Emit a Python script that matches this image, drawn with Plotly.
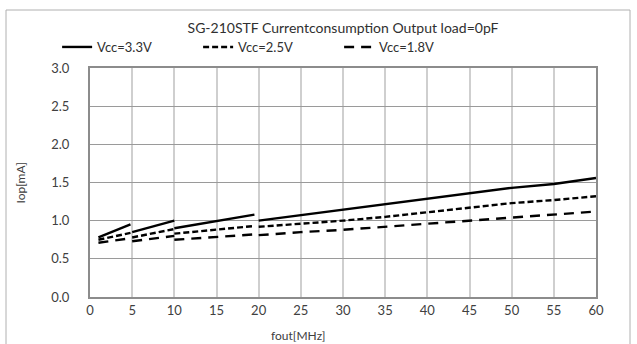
import plotly.graph_objects as go

# Frequency segments (MHz) and current (mA); None separates measurement ranges
fout = [1, 4.8, None, 5, 10, None, 10, 19.5, None,
        20, 25, 30, 35, 40, 45, 50, 55, 60]
iop_33 = [0.78, 0.95, None, 0.85, 1.00, None, 0.90, 1.08, None,
          1.00, 1.07, 1.15, 1.22, 1.29, 1.36, 1.43, 1.48, 1.56]
iop_25 = [0.75, 0.84, None, 0.78, 0.89, None, 0.83, 0.93, None,
          0.92, 0.96, 1.00, 1.05, 1.11, 1.17, 1.23, 1.27, 1.32]
iop_18 = [0.71, 0.77, None, 0.73, 0.80, None, 0.75, 0.82, None,
          0.81, 0.85, 0.88, 0.92, 0.96, 1.00, 1.04, 1.08, 1.12]

series_names = ["Vcc=3.3V", "Vcc=2.5V", "Vcc=1.8V"]
series_vals = [iop_33, iop_25, iop_18]
dashes = ["solid", "6px,3px", "10px,7px"]

x_ticks = [0, 5, 10, 15, 20, 25, 30, 35, 40, 45, 50, 55, 60]
y_ticks = [0.0, 0.5, 1.0, 1.5, 2.0, 2.5, 3.0]

FONT = "Lato, 'Open Sans', sans-serif"

fig = go.Figure()
for name, vals, d in zip(series_names, series_vals, dashes):
    fig.add_trace(go.Scatter(
        x=fout, y=vals, name=name, mode="lines",
        line=dict(color="black", width=2.4, dash=d),
        connectgaps=False,
    ))

fig.update_layout(
    width=637, height=344,
    margin=dict(l=90, r=41, t=68, b=47),
    paper_bgcolor="white", plot_bgcolor="white",
    font=dict(family=FONT, size=13, color="#404040"),
    title=dict(text="SG-210STF Currentconsumption Output load=0pF",
               x=0.5, xref="paper", xanchor="center",
               y=1 - 28 / 344, yanchor="middle",
               font=dict(family=FONT, size=14, color="#303030")),
    legend=dict(orientation="h", x=-0.065, xanchor="left",
                y=(297 - 47) / 229, yanchor="middle",
                font=dict(family=FONT, size=13, color="#303030"),
                entrywidth=96, entrywidthmode="pixels",
                bgcolor="rgba(0,0,0,0)"),
    showlegend=True,
)

fig.update_xaxes(
    range=[0, 60], tickvals=x_ticks, ticktext=[str(v) for v in x_ticks],
    showgrid=True, gridcolor="#cfcfcf", gridwidth=1.5,
    showline=True, linecolor="#8c8c8c", linewidth=2, mirror=True,
    ticks="", zeroline=False, automargin=False,
)
fig.update_yaxes(
    range=[0, 3.0], tickvals=y_ticks, ticktext=[f"{v:.1f}" for v in y_ticks],
    showgrid=True, gridcolor="#9a9a9a", gridwidth=1.2,
    showline=True, linecolor="#8c8c8c", linewidth=2, mirror=True,
    ticks="", zeroline=False, ticklabelstandoff=16, automargin=False,
)

# axis titles
fig.add_annotation(text="fout[MHz]", xref="paper", yref="paper",
                   x=(298 - 90) / 506, y=(297 - 335) / 229,
                   xanchor="center", yanchor="middle", showarrow=False,
                   font=dict(family=FONT, size=12, color="#404040"))
fig.add_annotation(text="Iop[mA]", xref="paper", yref="paper",
                   x=(20 - 90) / 506, y=0.5, textangle=-90,
                   xanchor="center", yanchor="middle", showarrow=False,
                   font=dict(family=FONT, size=12, color="#404040"))

# outer chart border
fig.add_shape(type="rect", xref="paper", yref="paper",
              x0=-84 / 506, x1=(630 - 90) / 506,
              y0=-60 / 229, y1=(297 - 10) / 229,
              line=dict(color="#b0b0b0", width=1), layer="below")

fig.write_html("out.html", config={"displayModeBar": False},
               post_script="document.body.style.margin='0px';")
